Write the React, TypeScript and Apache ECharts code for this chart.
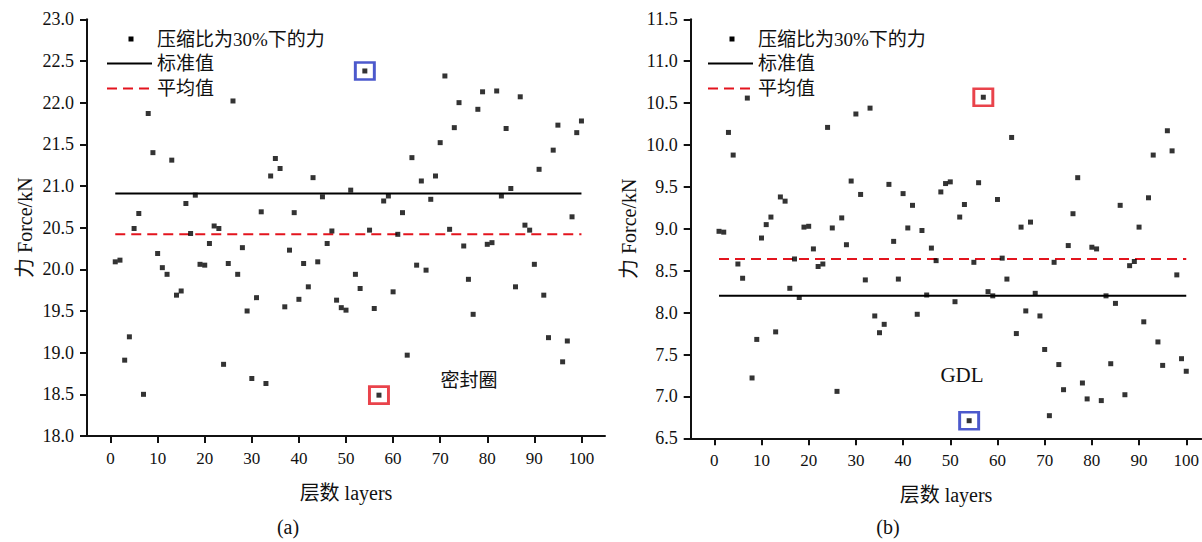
import React, { useEffect, useRef } from "react";
import * as echarts from "echarts";

const layers: number[] = Array.from({ length: 100 }, (_, i) => i + 1);

const sealForce: number[] = [
  20.09, 20.11, 18.91, 19.19, 20.49, 20.67, 18.5, 21.87, 21.4, 20.19,
  20.02, 19.94, 21.31, 19.69, 19.74, 20.79, 20.43, 20.89, 20.06, 20.05,
  20.31, 20.52, 20.49, 18.86, 20.07, 22.02, 19.94, 20.26, 19.5, 18.69,
  19.66, 20.69, 18.63, 21.12, 21.33, 21.21, 19.55, 20.23, 20.68, 19.64,
  20.07, 19.79, 21.1, 20.09, 20.87, 20.31, 20.46, 19.63, 19.54, 19.51,
  20.95, 19.94, 19.77, 22.38, 20.47, 19.53, 18.49, 20.82, 20.88, 19.73,
  20.42, 20.68, 18.97, 21.34, 20.05, 21.06, 19.99, 20.84, 21.12, 21.52,
  22.32, 20.48, 21.7, 22.0, 20.28, 19.88, 19.46, 21.92, 22.13, 20.3,
  20.32, 22.14, 20.88, 21.69, 20.97, 19.79, 22.07, 20.53, 20.47, 20.06,
  21.2, 19.69, 19.18, 21.43, 21.73, 18.89, 19.14, 20.63, 21.64, 21.78,
];

const gdlForce: number[] = [
  8.97, 8.96, 10.15, 9.88, 8.58, 8.41, 10.56, 7.22, 7.68, 8.89,
  9.05, 9.14, 7.77, 9.38, 9.33, 8.29, 8.64, 8.18, 9.02, 9.03,
  8.76, 8.55, 8.58, 10.21, 9.01, 7.06, 9.13, 8.81, 9.57, 10.37,
  9.41, 8.39, 10.44, 7.96, 7.76, 7.86, 9.53, 8.85, 8.4, 9.42,
  9.01, 9.28, 7.98, 8.98, 8.21, 8.77, 8.62, 9.44, 9.54, 9.56,
  8.13, 9.14, 9.29, 6.71, 8.6, 9.55, 10.57, 8.25, 8.2, 9.35,
  8.65, 8.4, 10.09, 7.75, 9.02, 8.02, 9.08, 8.23, 7.96, 7.56,
  6.77, 8.6, 7.38, 7.08, 8.8, 9.18, 9.61, 7.16, 6.97, 8.78,
  8.76, 6.95, 8.2, 7.39, 8.11, 9.28, 7.02, 8.56, 8.61, 9.02,
  7.89, 9.37, 9.88, 7.65, 7.37, 10.17, 9.93, 8.45, 7.45, 7.3,
];

const sealStandard = 20.91;
const sealMean = 20.42;
const gdlStandard = 8.2;
const gdlMean = 8.64;

const xTickValues: number[] = [0, 10, 20, 30, 40, 50, 60, 70, 80, 90, 100];
const lineStart = 1;
const lineEnd = 100;

const sealBlueLayer = 54;
const sealRedLayer = 57;
const gdlRedLayer = 57;
const gdlBlueLayer = 54;

const seriesNames = ["压缩比为30%下的力", "标准值", "平均值"];
const yTitle = "力 Force/kN";
const xTitle = "层数 layers";
const panelLabels = ["(a)", "(b)"];
const panelNotes = ["密封圈", "GDL"];

const FONT = '"Liberation Serif", "Times New Roman", "Noto Sans CJK SC", serif';
const RED = "#e3141e";
const BLUE = "#1f2fbf";

export default function App() {
  const ref = useRef<HTMLDivElement>(null);

  useEffect(() => {
    if (!ref.current) return;
    const chart = echarts.init(ref.current, undefined, { renderer: "svg" });

    const mkX = (gridIndex: number, max: number) => ({
      type: "value",
      gridIndex,
      min: -5,
      max,
      name: xTitle,
      nameLocation: "middle",
      nameGap: 47,
      nameTextStyle: { fontFamily: FONT, fontSize: 20, color: "#111" },
      axisLine: { show: true, onZero: false, lineStyle: { color: "#111", width: 2 } },
      axisTick: {
        show: true,
        inside: false,
        length: 7,
        customValues: xTickValues,
        lineStyle: { color: "#111", width: 2 },
      },
      axisLabel: {
        show: true,
        margin: 14,
        customValues: xTickValues,
        fontFamily: FONT,
        fontSize: 17,
        color: "#111",
      },
      splitLine: { show: false },
    });

    const mkY = (gridIndex: number, min: number, max: number) => ({
      type: "value",
      gridIndex,
      min,
      max,
      interval: 0.5,
      name: yTitle,
      nameLocation: "middle",
      nameGap: 52,
      nameRotate: 90,
      nameTextStyle: { fontFamily: FONT, fontSize: 20, color: "#111" },
      axisLine: { show: true, onZero: false, lineStyle: { color: "#111", width: 2 } },
      axisTick: { show: true, inside: false, length: 7, lineStyle: { color: "#111", width: 2 } },
      axisLabel: {
        show: true,
        margin: 13,
        fontFamily: FONT,
        fontSize: 18,
        color: "#111",
        formatter: (v: number) => v.toFixed(1),
      },
      splitLine: { show: false },
    });

    const pts = (vals: number[]) => vals.map((v, i) => [layers[i], v]);

    const scatter = (idx: number, vals: number[]) => ({
      name: seriesNames[0],
      type: "scatter",
      xAxisIndex: idx,
      yAxisIndex: idx,
      symbol: "rect",
      symbolSize: 5,
      itemStyle: { color: "#000" },
      data: pts(vals),
      z: 5,
    });

    const hline = (idx: number, name: string, v: number, color: string, dashed: boolean) => ({
      name,
      type: "line",
      xAxisIndex: idx,
      yAxisIndex: idx,
      symbol: "none",
      lineStyle: { color, width: 2, type: dashed ? [10, 6] : "solid" },
      data: [
        [lineStart, v],
        [lineEnd, v],
      ],
      z: 3,
    });

    const box = (idx: number, layer: number, vals: number[], color: string) => ({
      type: "scatter",
      xAxisIndex: idx,
      yAxisIndex: idx,
      symbol: "rect",
      symbolSize: [19, 17],
      itemStyle: { color: "rgba(0,0,0,0)", borderColor: color, borderWidth: 2.8 },
      data: [[layer, vals[layer - 1]]],
      z: 4,
      silent: true,
    });

    const legendGroup = (x0: number) => [
      {
        type: "rect",
        shape: { x: x0 + 21.5, y: 36.5, width: 5, height: 5 },
        style: { fill: "#000" },
      },
      {
        type: "text",
        x: x0 + 50,
        y: 39,
        style: { text: seriesNames[0], font: `19px ${FONT}`, fill: "#111", verticalAlign: "middle" },
      },
      {
        type: "line",
        shape: { x1: x0, y1: 63.5, x2: x0 + 45, y2: 63.5 },
        style: { stroke: "#000", lineWidth: 2 },
      },
      {
        type: "text",
        x: x0 + 50,
        y: 63.5,
        style: { text: seriesNames[1], font: `19px ${FONT}`, fill: "#111", verticalAlign: "middle" },
      },
      {
        type: "line",
        shape: { x1: x0, y1: 88.5, x2: x0 + 45, y2: 88.5 },
        style: { stroke: RED, lineWidth: 2, lineDash: [10, 6] },
      },
      {
        type: "text",
        x: x0 + 50,
        y: 88.5,
        style: { text: seriesNames[2], font: `19px ${FONT}`, fill: "#111", verticalAlign: "middle" },
      },
    ];

    const option = {
      animation: false,
      backgroundColor: "#fff",
      grid: [
        { left: 87, top: 19.3, width: 518, height: 416.7 },
        { left: 690.7, top: 19.3, width: 511.3, height: 419 },
      ],
      xAxis: [mkX(0, 105), mkX(1, 103.2)],
      yAxis: [mkY(0, 18, 23), mkY(1, 6.5, 11.5)],
      series: [
        hline(0, seriesNames[1], sealStandard, "#000", false),
        hline(0, seriesNames[2], sealMean, RED, true),
        box(0, sealBlueLayer, sealForce, BLUE),
        box(0, sealRedLayer, sealForce, RED),
        scatter(0, sealForce),
        hline(1, seriesNames[1], gdlStandard, "#000", false),
        hline(1, seriesNames[2], gdlMean, RED, true),
        box(1, gdlRedLayer, gdlForce, RED),
        box(1, gdlBlueLayer, gdlForce, BLUE),
        scatter(1, gdlForce),
      ],
      graphic: [
        ...legendGroup(107),
        ...legendGroup(708),
        {
          type: "text",
          x: 469,
          y: 380,
          style: { text: panelNotes[0], font: `19px ${FONT}`, fill: "#111", align: "center", verticalAlign: "middle" },
        },
        {
          type: "text",
          x: 962,
          y: 375,
          style: { text: panelNotes[1], font: `21px ${FONT}`, fill: "#111", align: "center", verticalAlign: "middle" },
        },
        {
          type: "text",
          x: 288,
          y: 527,
          style: { text: panelLabels[0], font: `20px ${FONT}`, fill: "#111", align: "center", verticalAlign: "middle" },
        },
        {
          type: "text",
          x: 888,
          y: 527,
          style: { text: panelLabels[1], font: `20px ${FONT}`, fill: "#111", align: "center", verticalAlign: "middle" },
        },
      ],
    };

    chart.setOption(option as any);
    return () => chart.dispose();
  }, []);

  return (
    <div
      ref={ref}
      style={{ position: "absolute", left: 0, top: 0, width: 1202, height: 542, background: "#fff" }}
    />
  );
}
